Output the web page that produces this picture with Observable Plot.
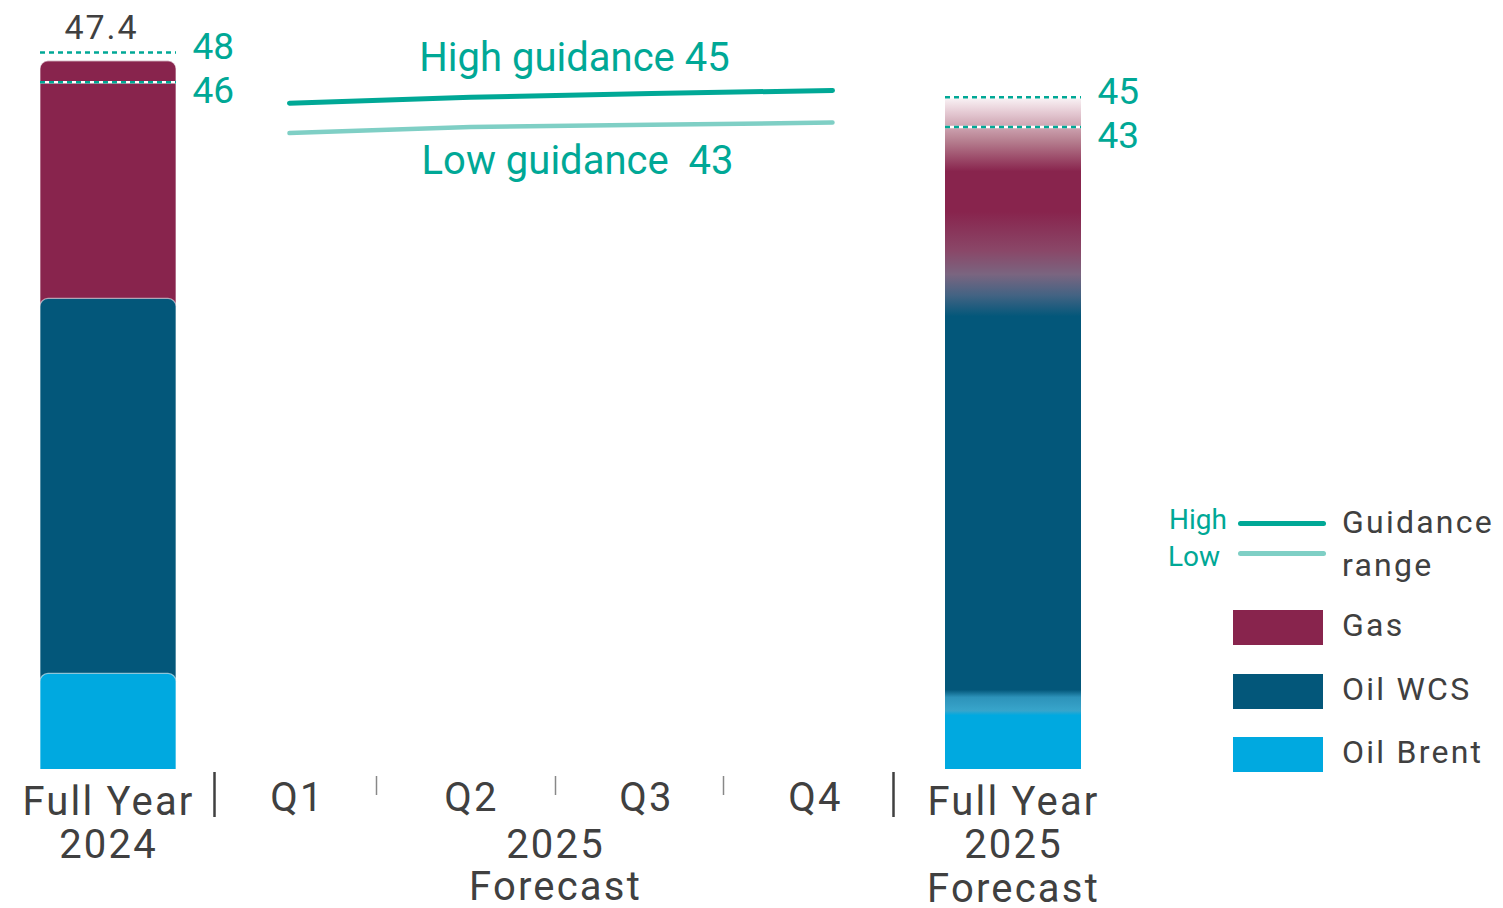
<!DOCTYPE html>
<html><head><meta charset="utf-8">
<script src="https://cdn.jsdelivr.net/npm/d3@7"></script>
<script src="https://cdn.jsdelivr.net/npm/@observablehq/plot@0.6"></script>
<style>
body{margin:0;background:#fff;font-family:Roboto,sans-serif;}
#wrap{position:relative;width:1503px;height:908px;overflow:hidden;}
#chart{position:absolute;left:0;top:0;}
svg text{white-space:pre;}
g[fill="#404040"] text{letter-spacing:0.055em;}
.lg{position:absolute;font-family:Roboto,sans-serif;line-height:1;white-space:nowrap;}
.gray{color:#404040;font-size:32px;letter-spacing:0.07em;}
.teal{color:#00A896;font-size:28px;}
</style></head><body><div id="wrap"><div id="chart"></div><div id="legend"></div></div>
<script>
// ---- data ----
const categories = ["FY2024", "Q1", "Q2", "Q3", "Q4", "FY2025"];
const categoryLabels = ["Full Year\n2024", "Q1", "Q2", "Q3", "Q4", "Full Year\n2025\nForecast"];
const subLabel = "2025\nForecast";
const seriesNames = ["Oil Brent", "Oil WCS", "Gas"];
const seriesColors = ["#00A9E0", "#03577A", "#88244D"];
const fy2024Values = [6.4, 25.1, 15.9];
const fy2025Values = [5.0, 26.3, 13.7];
const fy2024Total = 47.4;
const fy2024Range = [46, 48];
const fy2025Range = [43, 45];
const quarters = ["Q1", "Q2", "Q3", "Q4"];
const highGuidanceLine = [44.6, 45.0, 45.25, 45.45];
const lowGuidanceLine = [42.6, 43.0, 43.15, 43.3];
const guidanceHigh = 45;
const guidanceLow = 43;
const guidanceLegend = ["High", "Low"];

const teal = "#00A896", tealLight = "#7FCFC5", gray = "#404040";
// small horizontal nudges of the quarter labels / ticks (style)
const qLabelDx = [8, 1, -5, -17];
const qTickDx = [-94, -96, -109];

// ---- derived tables ----
let cum = 0;
const seg2024 = fy2024Values.map((v, i) => ({cat: "FY2024", series: seriesNames[i], color: seriesColors[i], top: (cum += v)}))
  .sort((a, b) => b.top - a.top);
const total2025 = d3.sum(fy2025Values);
const b1 = fy2025Values[0], b2 = fy2025Values[0] + fy2025Values[1];
const ranges = [
  ...fy2024Range.map(v => ({cat: "FY2024", v, upper: v === d3.max(fy2024Range)})),
  ...fy2025Range.map(v => ({cat: "FY2025", v, upper: v === d3.max(fy2025Range)}))
];
const high = quarters.map((q, i) => ({q, v: highGuidanceLine[i]}));
const low = quarters.map((q, i) => ({q, v: lowGuidanceLine[i]}));
const fyCats = categories.filter(c => !quarters.includes(c));

const plot = Plot.plot({
  width: 1140, height: 908,
  marginLeft: 40, marginRight: 59, marginTop: 22, marginBottom: 139,
  style: {fontFamily: "Roboto, sans-serif", background: "transparent"},
  x: {type: "band", domain: categories, paddingInner: 0.25, paddingOuter: 0, axis: null},
  y: {domain: [0, 50], axis: null},
  marks: [
    Plot.barY(seg2024, {x: "cat", y1: 0, y2: "top", fill: "color", rx: 8, insetBottom: -20, clip: true,
      stroke: "#ffffff", strokeOpacity: 0.55, strokeWidth: 1.2}),
    Plot.barY([{cat: "FY2025", total: total2025}], {x: "cat", y1: 0, y2: "total", fill: "url(#fy25grad)"}),
    Plot.tickY(ranges, {x: "cat", y: "v", stroke: "#ffffff", strokeWidth: 2.5}),
    Plot.tickY(ranges, {x: "cat", y: "v", stroke: teal, strokeWidth: 2.5, strokeDasharray: "5,4"}),
    Plot.text(ranges.filter(d => d.upper), {x: "cat", y: "v", text: d => String(d.v), dx: 84, dy: -5, textAnchor: "start", fill: teal, fontSize: 37}),
    Plot.text(ranges.filter(d => !d.upper), {x: "cat", y: "v", text: d => String(d.v), dx: 84, dy: 9, textAnchor: "start", fill: teal, fontSize: 37}),
    Plot.text([{cat: "FY2024", v: fy2024Total}], {x: "cat", y: "v", text: d => d.v.toFixed(1), dx: -7, dy: -33, fill: gray, fontSize: 34}),
    Plot.line(low, {x: "q", y: "v", stroke: tealLight, strokeWidth: 4.5, strokeLinecap: "round", curve: "linear"}),
    Plot.line(high, {x: "q", y: "v", stroke: teal, strokeWidth: 5, strokeLinecap: "round", curve: "linear"}),
    Plot.text([{v: guidanceHigh}], {x: () => "Q2", y: "v", text: d => `High guidance ${d.v}`, dx: 104, dy: -39, fill: teal, fontSize: 40}),
    Plot.text([{v: guidanceLow}], {x: () => "Q2", y: "v", text: d => `Low guidance  ${d.v}`, dx: 107, dy: 34, fill: teal, fontSize: 40}),
    // axis labels
    Plot.text(fyCats, {x: d => d, text: d => categoryLabels[categories.indexOf(d)], frameAnchor: "bottom", lineAnchor: "top",
      dy: 15, fontSize: 40, lineHeight: 1.08, fill: gray}),
    ...quarters.map((q, i) => Plot.text([q], {x: d => d, text: d => categoryLabels[categories.indexOf(d)], frameAnchor: "bottom",
      lineAnchor: "top", dy: 13, dx: qLabelDx[i], fontSize: 40, fill: gray})),
    Plot.text([subLabel], {x: () => "Q2", text: d => d, frameAnchor: "bottom", lineAnchor: "top",
      dy: 59, dx: 85, fontSize: 40, lineHeight: 1.05, fill: gray}),
    // separators
    Plot.ruleX(["Q1"], {x: d => d, dx: -75, insetTop: 750, insetBottom: -48, stroke: gray, strokeWidth: 2.5}),
    Plot.ruleX(["Q4"], {x: d => d, dx: 61, insetTop: 750, insetBottom: -48, stroke: gray, strokeWidth: 2.5}),
    ...["Q2", "Q3", "Q4"].map((q, i) => Plot.ruleX([q], {x: d => d, dx: qTickDx[i], insetTop: 754, insetBottom: -26, stroke: "#888", strokeWidth: 1.5}))
  ]
});

// gradient for the forecast bar
const yS = plot.scale("y");
const [cBrent, cWcs, cGas] = seriesColors;
const stops = [
  [0, cBrent], [b1 - 1.4, cBrent], [b1 - 1.1, "#38A5CB"], [b1 - 0.2, "#2D93BA"], [b1 + 0.3, cWcs],
  [b2 - 1.0, cWcs], [b2 + 0.4, "#436383"], [b2 + 1.8, "#7A6580"], [b2 + 3.4, "#8A4768"], [b2 + 6.0, cGas],
  [total2025 - 5.0, cGas], [total2025 - 3.0, "#B57D8E"], [total2025 - 1.0, "#E6CCD5"], [total2025, "#FBF6F8"]
];
const defs = d3.select(plot).insert("defs", ":first-child");
const grad = defs.append("linearGradient").attr("id", "fy25grad").attr("gradientUnits", "userSpaceOnUse")
  .attr("x1", 0).attr("x2", 0).attr("y1", yS.apply(0)).attr("y2", yS.apply(total2025));
stops.forEach(([v, c]) => grad.append("stop").attr("offset", Math.max(0, Math.min(1, v / total2025))).attr("stop-color", c));

document.getElementById("chart").appendChild(plot);

// ---- legend ----
const leg = d3.select("#legend");
const lineColors = [teal, tealLight];
guidanceLegend.forEach((t, i) => {
  leg.append("div").attr("class", "lg teal").style("right", (1503 - 1227 + (i ? 7 : 0)) + "px").style("top", (506 + i * 37) + "px").text(t);
  leg.append("div").attr("class", "lg").style("left", "1238px").style("top", (521 + i * 30) + "px")
    .style("width", "88px").style("height", "5px").style("border-radius", "3px").style("background", lineColors[i]);
});
leg.append("div").attr("class", "lg gray").style("left", "1342px").style("top", "501px").style("line-height", "43px").html("Guidance<br>range");
seriesNames.slice().reverse().forEach((name, i) => {
  const color = seriesColors[seriesNames.length - 1 - i];
  const top = 610 + i * 63.5;
  leg.append("div").attr("class", "lg").style("left", "1233px").style("top", top + "px")
    .style("width", "90px").style("height", "35px").style("background", color);
  leg.append("div").attr("class", "lg gray").style("left", "1342px").style("top", (top - 1) + "px").style("line-height", "32px").text(name);
});
</script></body></html>
